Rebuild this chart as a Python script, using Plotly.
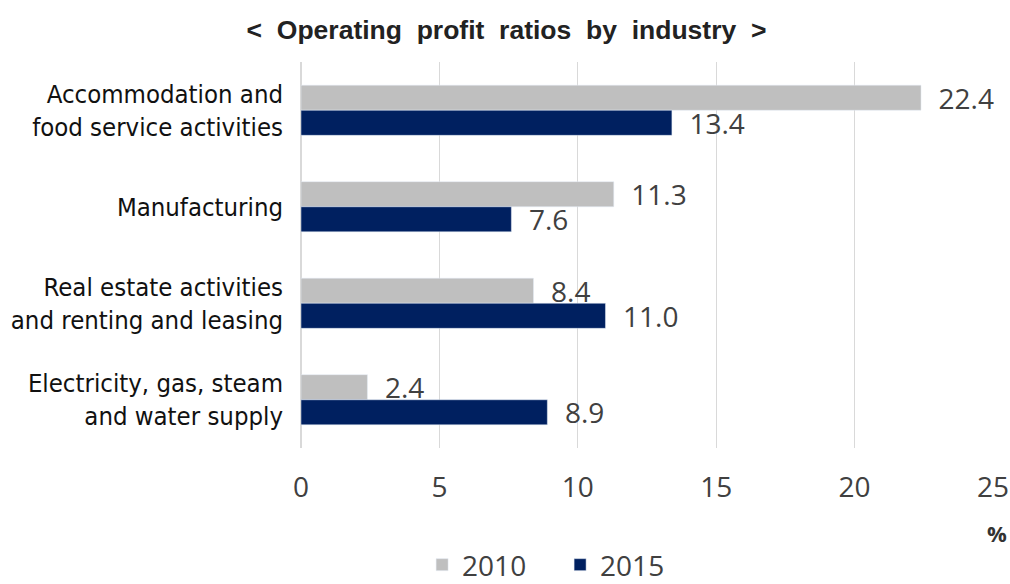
import plotly.graph_objects as go

industries = [
    'Accommodation and<br>food service activities',
    'Manufacturing',
    'Real estate activities<br>and renting and leasing',
    'Electricity, gas, steam<br>and water supply',
]
ratio_2010 = [22.4, 11.3, 8.4, 2.4]
ratio_2015 = [13.4, 7.6, 11.0, 8.9]
x_ticks = [0, 5, 10, 15, 20, 25]

num_font = 'Open Sans'
label_font = 'DejaVu Sans Condensed, Liberation Sans, Arial'

fig = go.Figure(
    data=[
        go.Bar(
            name='2010', y=industries, x=ratio_2010, orientation='h',
            marker_color='#bfbfbf',
            texttemplate='  %{x:.1f}', textposition='outside',
            constraintext='none', cliponaxis=False,
        ),
        go.Bar(
            name='2015', y=industries, x=ratio_2015, orientation='h',
            marker_color='#002060',
            texttemplate='  %{x:.1f}', textposition='outside',
            constraintext='none', cliponaxis=False,
        ),
    ]
)
fig.update_traces(textfont=dict(family=num_font, size=28, color='#404040'))

fig.update_layout(
    width=1010, height=584,
    margin=dict(l=301, r=17, t=62, b=136, autoexpand=False),
    paper_bgcolor='white', plot_bgcolor='white',
    barmode='group', bargap=0.48, bargroupgap=0,
    title=dict(
        text='<b>&lt;  Operating  profit  ratios  by  industry  &gt;</b>',
        x=0.5015, xanchor='center', y=0.9486, yanchor='middle',
        font=dict(family='Liberation Sans, Arial', size=26.5, color='#222222'),
    ),
    legend=dict(
        orientation='h', x=0.175, xanchor='left', y=-0.303, yanchor='middle',
        font=dict(family=num_font, size=28, color='#404040'),
        entrywidth=93, entrywidthmode='pixels',
        itemclick=False,
    ),
    showlegend=True,
)
fig.update_xaxes(
    range=[0, 25], tickvals=x_ticks, showgrid=True, gridcolor='#d9d9d9', gridwidth=1,
    zeroline=True, zerolinecolor='#d9d9d9', showline=False, automargin=False,
    tickfont=dict(family=num_font, size=28, color='#404040'),
    ticklabelstandoff=20,
)
fig.update_yaxes(
    autorange='reversed', showgrid=False, showline=False, automargin=False,
    tickfont=dict(family=label_font, size=25.5, color='#111111'),
    ticklabelstandoff=17,
)
fig.add_annotation(
    text='<b>%</b>', xref='paper', yref='paper', x=1.0058, y=-0.22,
    xanchor='center', yanchor='middle', showarrow=False,
    font=dict(family=num_font, size=22, color='#333333'),
)

# drop the default 8px body margin so the figure fills the window exactly
fig.write_html(
    "out.html",
    config={'displayModeBar': False},
    post_script="document.body.style.margin='0';",
)
